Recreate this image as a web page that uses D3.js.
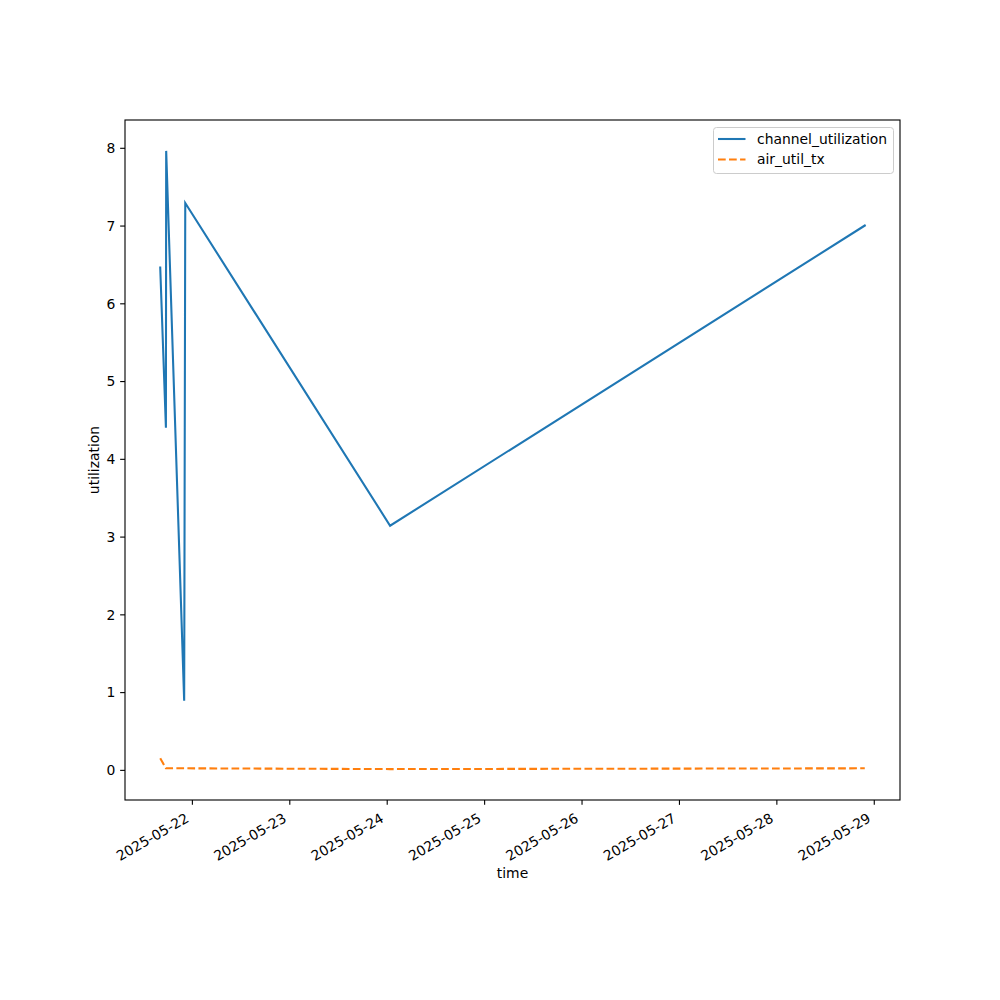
<!DOCTYPE html>
<html><head><meta charset="utf-8">
<script src="https://cdn.jsdelivr.net/npm/d3@7"></script>
<style>body{margin:0;background:#fff}svg{display:block}text{font-family:"DejaVu Sans",sans-serif;fill:#000}</style>
</head><body>
<svg id="c" width="1000" height="1000"></svg>
<script>
const times = ["2025-05-21T16:12","2025-05-21T17:36","2025-05-21T17:40","2025-05-21T22:06","2025-05-21T22:22","2025-05-24T00:50","2025-05-28T21:47"];
const channelUtil = [6.46, 4.40, 7.96, 0.89, 7.29, 3.14, 7.00];
const airUtilTx = [0.15, 0.02, 0.02, 0.02, 0.02, 0.01, 0.02];
const yTicks = [0,1,2,3,4,5,6,7,8];
const xTickLabels = ["2025-05-22","2025-05-23","2025-05-24","2025-05-25","2025-05-26","2025-05-27","2025-05-28","2025-05-29"];
const seriesNames = ["channel_utilization","air_util_tx"];
const colors = ["#1f77b4","#ff7f0e"];

const svg = d3.select("#c");
const L=125,R=900,T=120,B=800;
const LW = 2.08, DASH = "7.7,3.33";
const parse = d3.timeParse("%Y-%m-%dT%H:%M");
const tDates = times.map(parse);
const t0 = d3.min(tDates), t1 = d3.max(tDates);
const span = t1 - t0;
const x = d3.scaleTime().domain([new Date(+t0 - 0.05*span), new Date(+t1 + 0.05*span)]).range([L,R]);
const allV = channelUtil.concat(airUtilTx);
const vmin = d3.min(allV), vmax = d3.max(allV), vr = vmax-vmin;
const y = d3.scaleLinear().domain([vmin-0.05*vr, vmax+0.05*vr]).range([B,T]);

// axes
const xTickDates = xTickLabels.map(d3.timeParse("%Y-%m-%d"));
const xAxis = svg.append("g").attr("transform",`translate(0,${B})`)
  .call(d3.axisBottom(x).tickValues(xTickDates).tickSize(4.86).tickFormat(""));
xAxis.select(".domain").remove();
xAxis.selectAll("line").attr("stroke","#000").attr("stroke-width",1.11);
xTickDates.forEach((d,i)=>{
  svg.append("text").attr("transform",`translate(${x(d)-2},${B+21}) rotate(-30)`)
    .attr("text-anchor","end").attr("font-size","13.9px").text(xTickLabels[i]);
});
const yAxis = svg.append("g").attr("transform",`translate(${L},0)`)
  .call(d3.axisLeft(y).tickValues(yTicks).tickSize(4.86).tickPadding(4.86).tickFormat(d3.format("d")));
yAxis.select(".domain").remove();
yAxis.selectAll("line").attr("stroke","#000").attr("stroke-width",1.11);
yAxis.selectAll("text").attr("font-size","13.9px").attr("font-family","DejaVu Sans").attr("fill","#000").attr("dy","0.35em");

// lines
const data = [channelUtil, airUtilTx];
data.forEach((vals,k)=>{
  const line = d3.line().x((d,i)=>x(tDates[i])).y(d=>y(d));
  svg.append("path").datum(vals).attr("d",line).attr("fill","none")
    .attr("stroke",colors[k]).attr("stroke-width",LW)
    .attr("stroke-dasharray",k===1?DASH:null).attr("stroke-linecap",k===1?"butt":"square");
});

// frame
svg.append("rect").attr("x",L).attr("y",T).attr("width",R-L).attr("height",B-T)
  .attr("fill","none").attr("stroke","#000").attr("stroke-width",1.11);

// labels
svg.append("text").attr("x",(L+R)/2).attr("y",878).attr("text-anchor","middle").attr("font-size","13.9px").text("time");
svg.append("text").attr("transform",`translate(99,${(T+B)/2}) rotate(-90)`).attr("text-anchor","middle").attr("font-size","13.9px").text("utilization");

// legend
const lg = svg.append("g");
lg.append("rect").attr("x",713.5).attr("y",127.5).attr("width",180).attr("height",46).attr("rx",3)
  .attr("fill","#fff").attr("fill-opacity",0.8).attr("stroke","#ccc").attr("stroke-width",1);
seriesNames.forEach((n,k)=>{
  const yy = 139 + k*20.5;
  lg.append("line").attr("x1",718).attr("x2",745.5).attr("y1",yy).attr("y2",yy)
    .attr("stroke",colors[k]).attr("stroke-width",LW).attr("stroke-dasharray",k===1?DASH:null);
  lg.append("text").attr("x",757).attr("y",yy+4.9).attr("font-size","13.9px").text(n);
});
</script>
</body></html>
